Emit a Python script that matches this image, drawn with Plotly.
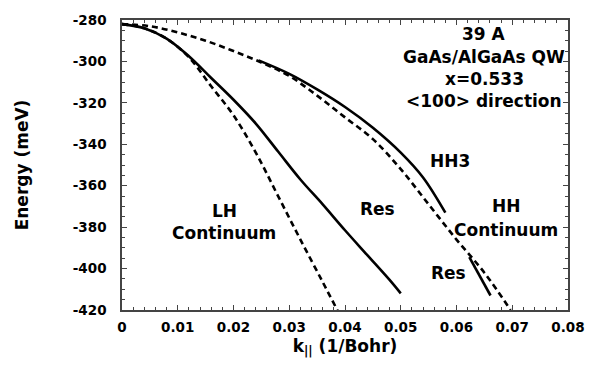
import plotly.graph_objects as go

# LH continuum edge (dashed)
lh_k = [0, 0.004, 0.008, 0.012, 0.016, 0.020, 0.024, 0.028, 0.032, 0.036, 0.0388]
lh_E = [-282, -284, -289, -298, -312, -326, -344, -365, -386, -406.5, -421]

# LH -> Res solid branch
lhr_k = [0, 0.004, 0.008, 0.012, 0.016, 0.020, 0.024, 0.028, 0.032, 0.036, 0.040, 0.044, 0.048, 0.050]
lhr_E = [-282, -284, -289, -297.5, -308, -318.5, -330, -343.5, -357, -369, -381.5, -393.5, -405.5, -412]

# HH continuum edge (dashed)
hh_k = [0, 0.005, 0.010, 0.015, 0.020, 0.025, 0.030, 0.035, 0.040, 0.045, 0.050, 0.055, 0.060, 0.065, 0.0697]
hh_E = [-282, -283, -286, -290, -295, -300.5, -307, -316.5, -327, -337.5, -352, -369, -386, -402, -420]

# HH3 solid branch
hh3_k = [0.0245, 0.030, 0.035, 0.040, 0.045, 0.050, 0.054, 0.058]
hh3_E = [-299.5, -306, -313.5, -322, -332, -344, -356, -373]

# Res solid branch near HH continuum
res_k = [0.0623, 0.0661]
res_E = [-394.5, -413]

x_ticks = [0, 0.01, 0.02, 0.03, 0.04, 0.05, 0.06, 0.07, 0.08]
x_ticktext = ["0", "0.01", "0.02", "0.03", "0.04", "0.05", "0.06", "0.07", "0.08"]
y_ticks = [-280, -300, -320, -340, -360, -380, -400, -420]
y_ticktext = ["-280", "-300", "-320", "-340", "-360", "-380", "-400", "-420"]

FONT = "DejaVu Sans, sans-serif"
dash = "6px,4px"

fig = go.Figure()
fig.add_trace(go.Scatter(x=lh_k, y=lh_E, mode="lines", line=dict(color="black", width=2.6, dash=dash, shape="spline")))
fig.add_trace(go.Scatter(x=lhr_k, y=lhr_E, mode="lines", line=dict(color="black", width=2.6, shape="spline")))
fig.add_trace(go.Scatter(x=hh_k, y=hh_E, mode="lines", line=dict(color="black", width=2.6, dash=dash, shape="spline")))
fig.add_trace(go.Scatter(x=hh3_k, y=hh3_E, mode="lines", line=dict(color="black", width=2.6, shape="spline")))
fig.add_trace(go.Scatter(x=res_k, y=res_E, mode="lines", line=dict(color="black", width=2.6)))

labels = [
    ("LH", 0.0184, -372),
    ("Continuum", 0.0183, -383),
    ("Res", 0.0459, -371),
    ("HH3", 0.0588, -348),
    ("HH", 0.0689, -370),
    ("Continuum", 0.0689, -381.6),
    ("Res", 0.0586, -402),
    ("39 A", 0.065, -286.6),
    ("GaAs/AlGaAs QW", 0.065, -298),
    ("x=0.533", 0.065, -308.5),
    ("<100> direction", 0.065, -318.9),
]
for t, x, y in labels:
    fig.add_annotation(x=x, y=y, text=t, showarrow=False,
                       font=dict(family=FONT, size=17, color="black", weight="bold"),
                       xanchor="center", yanchor="middle")

axis_common = dict(showgrid=False, zeroline=False, showline=True, linecolor="#444", linewidth=1.5,
                   mirror="ticks", ticks="inside", ticklen=5, tickwidth=1, tickcolor="#444",
                   tickfont=dict(family=FONT, size=13.5, color="black", weight="bold"))

fig.update_xaxes(range=[0, 0.08], tickvals=x_ticks, ticktext=x_ticktext,
                 minor=dict(ticks="inside", dtick=0.002, ticklen=3, tickcolor="#444"),
                 ticklabelstandoff=4,
                 title=dict(text="k<sub>||</sub> (1/Bohr)", font=dict(family=FONT, size=17, color="black", weight="bold"), standoff=6),
                 **axis_common)
fig.update_yaxes(range=[-420, -280], tickvals=y_ticks, ticktext=y_ticktext,
                 minor=dict(ticks="inside", dtick=5, ticklen=3, tickcolor="#444"),
                 ticklabelstandoff=11,
                 title=dict(text="Energy (meV)", font=dict(family=FONT, size=17, color="black", weight="bold"), standoff=40),
                 **axis_common)

fig.update_layout(width=597, height=370, margin=dict(l=122, r=27, t=15, b=60),
                  plot_bgcolor="white", paper_bgcolor="white", showlegend=False)

fig.write_html("out.html")
